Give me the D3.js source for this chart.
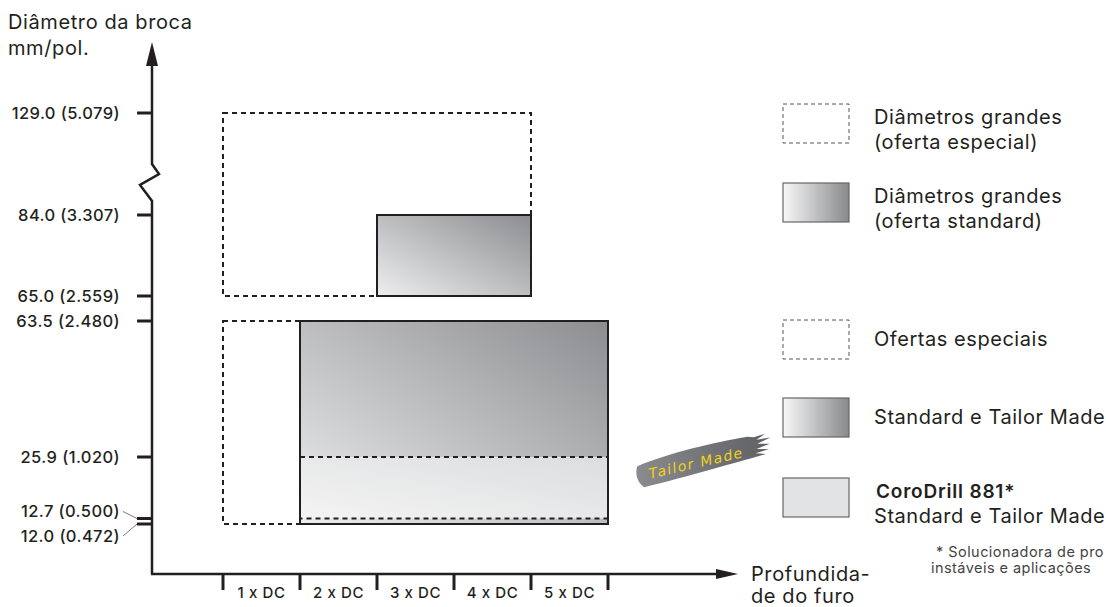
<!DOCTYPE html>
<html><head><meta charset="utf-8">
<script src="https://cdn.jsdelivr.net/npm/d3@7/dist/d3.min.js"></script>
<style>
html,body{margin:0;padding:0;background:#fff;}
svg{display:block;font-family:Inter, "Noto Sans", sans-serif;}
</style></head>
<body>
<svg id="chart" width="1106" height="607"></svg>
<script>
// ---- data ----
const yTickValues = [129.0, 84.0, 65.0, 63.5, 25.9, 12.7, 12.0];
const yTickInches = ["5.079", "3.307", "2.559", "2.480", "1.020", "0.500", "0.472"];
const xCategories = ["1 x DC", "2 x DC", "3 x DC", "4 x DC", "5 x DC"];
const boxNames  = ["largeSpecial", "largeStandard", "special", "standard", "coroDrill"];
const boxX0     = [0, 2, 0, 1, 1];
const boxX1     = [4, 4, 1, 5, 5];
const boxY0     = [65.0, 65.0, 12.0, 12.0, 12.7];
const boxY1     = [129.0, 84.0, 63.5, 63.5, 25.9];
const boxKind   = ["dashed", "gradient", "dashed", "gradient", "light"];
const legendLabels = [
  ["Diâmetros grandes", "(oferta especial)"],
  ["Diâmetros grandes", "(oferta standard)"],
  ["Ofertas especiais"],
  ["Standard e Tailor Made"],
  ["CoroDrill 881*", "Standard e Tailor Made"]
];
const legendKinds = ["dashed", "gradient", "dashed", "gradient", "light"];
const footnoteLines = ["* Solucionadora de pro", "instáveis e aplicações"];

// ---- layout ----
const svg = d3.select("#chart");
const axisX = 152, axisY = 574;
const x = d3.scaleLinear().domain([0, 5]).range([223, 608]);
// piecewise scale (axis is not linear; it has a break above 84)
const y = d3.scaleLinear().domain([12.0, 12.7, 25.9, 63.5, 65.0, 84.0, 129.0])
  .range([524, 518.5, 457, 321, 296, 215, 113]);

const defs = svg.append("defs");
function grad(id, x1, y1, x2, y2, c0, c1) {
  const g = defs.append("linearGradient").attr("id", id)
    .attr("x1", x1).attr("y1", y1).attr("x2", x2).attr("y2", y2);
  g.append("stop").attr("offset", "0%").attr("stop-color", c0);
  g.append("stop").attr("offset", "100%").attr("stop-color", c1);
}
grad("gDiag", 0, 1, 1, 0, "#eeeeef", "#8b8d90");
grad("gLight", 0, 1, 1, 0, "#f4f4f4", "#dcdddf");
grad("gLeg", 0, 0, 1, 0, "#f8f8f8", "#88898c");
grad("gBrush", 0, 0, 1, 0, "#8a8b8e", "#5f6063");

const ink = "#231f20";

// ---- boxes ----
const boxes = boxNames.map((n, i) => ({n, x0: boxX0[i], x1: boxX1[i], y0: boxY0[i], y1: boxY1[i], kind: boxKind[i]}));
const rectAttrs = (sel) => sel
  .attr("x", d => x(d.x0)).attr("y", d => y(d.y1))
  .attr("width", d => x(d.x1) - x(d.x0)).attr("height", d => y(d.y0) - y(d.y1));

svg.append("g").selectAll("rect").data(boxes.filter(b => b.kind === "dashed")).join("rect")
  .call(rectAttrs).attr("fill", "none").attr("stroke", ink).attr("stroke-width", 2)
  .attr("stroke-dasharray", "5,4");
svg.append("g").selectAll("rect").data(boxes.filter(b => b.kind === "gradient")).join("rect")
  .call(rectAttrs).attr("fill", "url(#gDiag)").attr("stroke", "none");
svg.append("g").selectAll("rect").data(boxes.filter(b => b.kind === "light")).join("rect")
  .call(rectAttrs).attr("fill", "url(#gLight)").attr("stroke", ink).attr("stroke-width", 2)
  .attr("stroke-dasharray", "5,4");
svg.append("g").selectAll("rect").data(boxes.filter(b => b.kind === "gradient")).join("rect")
  .call(rectAttrs).attr("fill", "none").attr("stroke", ink).attr("stroke-width", 2);

// ---- axes ----
const breakTop = y(129.0) + 0.5 * (y(84.0) - y(129.0));
const breakBot = y(84.0) - 14;
svg.append("path")
  .attr("d", `M${axisX},${axisY} L${axisX},${breakBot} L${axisX-12},${breakBot-16} L${axisX+7},${breakTop+10} L${axisX},${breakTop} L${axisX},60`)
  .attr("fill", "none").attr("stroke", ink).attr("stroke-width", 2.5).attr("stroke-linejoin", "miter");
svg.append("path").attr("d", `M${axisX},42 L${axisX-6},66 L${axisX+6},66 Z`).attr("fill", ink);

svg.append("line").attr("x1", axisX - 1).attr("x2", 722).attr("y1", axisY).attr("y2", axisY)
  .attr("stroke", ink).attr("stroke-width", 2.5);
svg.append("path").attr("d", `M738,${axisY} L716,${axisY-5} L716,${axisY+5} Z`).attr("fill", ink);

svg.append("g").selectAll("line").data(yTickValues).join("line")
  .attr("x1", axisX - 15).attr("x2", axisX).attr("y1", d => y(d)).attr("y2", d => y(d))
  .attr("stroke", ink).attr("stroke-width", 3);

const labelOffset = v => v === 12.7 ? -7 : v === 12.0 ? 12 : 0;
svg.append("g").selectAll("text").data(yTickValues).join("text")
  .attr("x", 120).attr("y", d => y(d) + labelOffset(d)).attr("dy", "0.35em")
  .attr("text-anchor", "end").attr("font-size", 16.5).attr("font-weight", 500)
  .attr("letter-spacing", 0.4).attr("fill", ink)
  .text((d, i) => `${d.toFixed(1)} (${yTickInches[i]})`);
svg.append("g").selectAll("line").data(yTickValues.filter(v => labelOffset(v) !== 0)).join("line")
  .attr("x1", 123).attr("y1", d => y(d) + labelOffset(d))
  .attr("x2", axisX - 15).attr("y2", d => y(d))
  .attr("stroke", "#555").attr("stroke-width", 0.8);

svg.append("g").selectAll("line").data(d3.range(0, 6)).join("line")
  .attr("x1", d => x(d)).attr("x2", d => x(d)).attr("y1", axisY).attr("y2", axisY + 16)
  .attr("stroke", ink).attr("stroke-width", 3);
svg.append("g").selectAll("text").data(xCategories).join("text")
  .attr("x", (d, i) => x(i + 0.5)).attr("y", 598).attr("text-anchor", "middle")
  .attr("font-size", 15).attr("font-weight", 500).attr("letter-spacing", 0.6)
  .attr("fill", ink).text(d => d);

const yTitle = svg.append("text").attr("font-size", 20).attr("letter-spacing", 0.6).attr("fill", ink);
yTitle.append("tspan").attr("x", 8).attr("y", 29).text("Diâmetro da broca");
yTitle.append("tspan").attr("x", 8).attr("y", 55).text("mm/pol.");
const xTitle = svg.append("text").attr("font-size", 20).attr("letter-spacing", 0.6).attr("fill", ink);
xTitle.append("tspan").attr("x", 751).attr("y", 581).text("Profundida-");
xTitle.append("tspan").attr("x", 751).attr("y", 603).text("de do furo");

// ---- legend ----
const legTop = [104, 183, 320, 398, 478];
const lg = svg.append("g");
legendKinds.forEach((k, i) => {
  const r = lg.append("rect").attr("x", 783).attr("y", legTop[i]).attr("width", 66).attr("height", 39);
  if (k === "dashed") r.attr("fill", "none").attr("stroke", "#555").attr("stroke-width", 1).attr("stroke-dasharray", "4,3");
  else if (k === "gradient") r.attr("fill", "url(#gLeg)").attr("stroke", "#666").attr("stroke-width", 1.2);
  else r.attr("fill", "#e2e3e4").attr("stroke", "#666").attr("stroke-width", 1.2);
  const lines = legendLabels[i];
  const t = lg.append("text").attr("font-size", 20).attr("letter-spacing", 0.55).attr("fill", ink);
  const startY = lines.length === 2 ? legTop[i] + 20 : legTop[i] + 26;
  lines.forEach((l, j) => {
    const ts = t.append("tspan").attr("x", 874).attr("y", startY + j * 25).text(l);
    if (i === 4 && j === 0) ts.attr("font-weight", 600).attr("x", 876).attr("font-size", 19).attr("letter-spacing", 0.8);
  });
});

const fn = svg.append("text").attr("font-size", 14.5).attr("letter-spacing", 0.45).attr("fill", "#444");
footnoteLines.forEach((l, j) => fn.append("tspan").attr("x", j === 0 ? 936 : 931).attr("y", 557 + j * 16).text(l));

// ---- Tailor Made badge ----
const badge = svg.append("g").attr("transform", "translate(700,462) rotate(-13)");
badge.append("path")
  .attr("d", "M-62,-10 C-30,-16 20,-16 52,-14 L58,-12 L70,-13 L60,-9 L74,-8 L60,-5 L72,-2 L58,0 L70,3 L56,4 L66,7 L50,8 C20,9 -30,12 -60,12 C-66,6 -66,-4 -62,-10 Z")
  .attr("fill", "url(#gBrush)");
badge.append("text").attr("x", -4).attr("y", 5).attr("text-anchor", "middle")
  .attr("font-size", 14).attr("font-style", "italic").attr("font-weight", 300)
  .attr("font-family", "'DejaVu Sans', sans-serif")
  .attr("fill", "#f2d21b").attr("letter-spacing", 1.5).text("Tailor Made");
</script>
</body></html>
